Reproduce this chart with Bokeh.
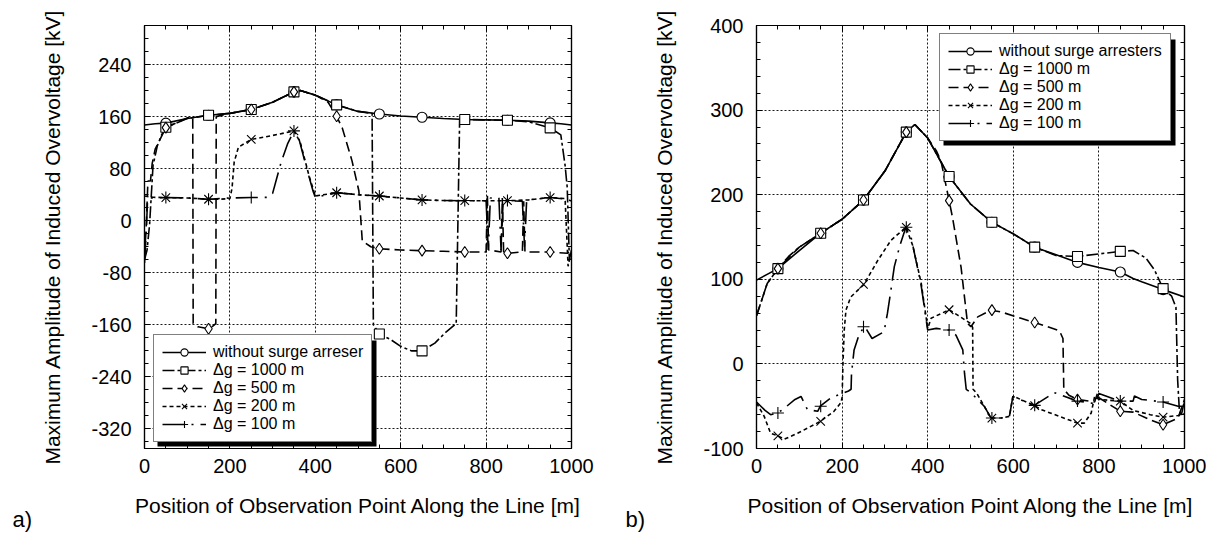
from bokeh.plotting import figure
from bokeh.models import (Range1d, FixedTicker, LinearAxis, Legend, LegendItem,
                          BoxAnnotation, Title, CustomJSTickFormatter)
from bokeh.layouts import row
from bokeh.embed import file_html
from bokeh.resources import INLINE

FONT = "Liberation Sans"

# ---------------- data: chart a) ----------------
a_none_x = [0, 25, 50, 100, 150, 200, 250, 300, 350, 365, 400, 450, 500, 550, 600, 650, 700, 750, 800, 850, 900, 950, 975, 1000]
a_none_y = [147, 149, 150, 157, 162, 165, 171, 182, 198, 200, 193, 178, 168, 164, 161, 159, 157, 155.5, 155, 154.4, 153, 150.3, 149, 147]

a_g1000_x = [0, 6, 12, 16, 20, 30, 40, 50, 100, 150, 200, 250, 300, 350, 365, 400, 450, 500, 533, 536, 550, 575, 600, 625, 650, 680, 706, 730, 738, 750, 800, 850, 900, 950, 975, 985, 990, 995, 1000]
a_g1000_y = [-60, -45, -5, 40, 85, 115, 132, 143.7, 157, 162, 165, 171, 182, 198, 200, 193, 178, 168, 165, -160, -174, -182, -193, -200, -200, -188, -171, -158, 155, 155.5, 155, 154.4, 152, 142.7, 132, 85, 51, -60, -45]

a_g500_x = [0, 4, 8, 14, 18, 25, 50, 100, 113, 114, 125, 150, 160, 167, 168, 200, 250, 300, 350, 365, 400, 430, 450, 463, 486, 502, 510, 530, 550, 600, 650, 700, 750, 800, 803, 806, 835, 838, 841, 850, 885, 888, 891, 950, 990, 1000]
a_g500_y = [-55, -10, 61, 61, 88, 110, 143, 158, 159, -158, -163, -166, -162, -158, 160, 165, 171, 182, 198, 200, 193, 182, 160.5, 143, 92, 46, -31, -40, -43, -45, -46, -47, -48, -48, 40, -45, -48, 35, -48, -50, -48, 30, -48, -48, -50, -45]

a_g200_x = [0, 20, 50, 100, 150, 175, 200, 205, 210, 220, 250, 300, 350, 365, 385, 400, 450, 500, 550, 600, 650, 700, 750, 800, 850, 900, 950, 985, 992, 1000]
a_g200_y = [38, 36, 35.6, 35, 33, 33, 34, 50, 90, 113, 125, 131, 138, 120, 70, 38, 43, 40, 38, 35, 32, 31, 30.6, 30.6, 30.6, 32, 35.6, 34, -70, -45]

a_g100_x = [0, 4, 7, 12, 50, 100, 150, 200, 250, 290, 300, 320, 335, 350, 362, 380, 395, 400, 450, 500, 550, 600, 650, 700, 750, 800, 805, 810, 830, 835, 840, 850, 885, 890, 895, 950, 990, 1000]
a_g100_y = [-65, -20, 30, 35, 35.6, 35, 33, 35, 35.6, 36, 42, 90, 118, 138, 125, 80, 45, 36, 43, 40, 38, 35, 32, 31, 30.6, 30.6, -45, 35, 35, -45, 32, 30.6, 30, -40, 32, 35.6, 33, 30]

mk_x = [50, 150, 250, 350, 450, 550, 650, 750, 850, 950]
a_mk_none = [150, 162, 171, 198, 178, 164, 159, 155.5, 154.4, 150.3]
a_mk_1000 = [143.7, 162, 171, 198, 178, -174, -200, 155.5, 154.4, 142.7]
a_mk_500 = [143, -166, 171, 198, 160.5, -43, -46, -48, -50, -48]
a_mk_200 = [35.6, 33, 125, 138, 43, 38, 32, 31, 31, 35.6]
a_mk_100 = [35.6, 33, 35.6, 138, 43, 38, 32, 31, 31, 35.6]

# ---------------- data: chart b) ----------------
b_none_x = [0, 50, 100, 150, 200, 250, 300, 350, 370, 400, 450, 500, 550, 600, 650, 700, 750, 800, 850, 880, 900, 950, 1000]
b_none_y = [99, 112.6, 134, 154.5, 171, 193.7, 228, 274, 283, 267, 221.5, 189, 167.4, 153.7, 138, 129, 120, 114, 108.6, 101, 97, 87.8, 79]

b_g1000_x = [0, 10, 25, 50, 75, 100, 150, 200, 250, 300, 350, 370, 400, 450, 500, 550, 600, 650, 700, 750, 800, 850, 880, 910, 930, 950, 970, 980, 984, 988, 992, 1000]
b_g1000_y = [57, 72, 95, 112.6, 127, 138, 154.5, 171, 193.7, 228, 274, 283, 267, 221.5, 189, 167.4, 153.7, 138, 128, 127, 130, 133, 134, 125, 111, 89, 80, 67, -19, -55, -62, -43]

b_g500_x = [0, 10, 25, 50, 100, 150, 200, 250, 300, 350, 370, 400, 420, 431, 450, 458, 478, 493, 501, 517, 548, 571, 618, 649, 680, 708, 716, 718, 730, 750, 790, 797, 800, 850, 880, 920, 950, 985, 1000]
b_g500_y = [57, 72, 95, 112.6, 138, 154.5, 171, 193.7, 228, 274, 283, 267, 252, 240, 193, 173, 114, 48, 44, 55.6, 63.5, 61.5, 54, 49, 44, 39, 30, -30, -37, -42, -45, -34, -40, -56, -57, -66, -72, -64, -42]

b_g200_x = [0, 18, 33, 50, 65, 96, 149, 181, 197, 200, 202, 205, 209, 220, 251, 283, 314, 349, 365, 385, 400, 408, 450, 470, 501, 505, 506, 515, 532, 548, 571, 591, 599, 602, 649, 665, 750, 766, 782, 790, 800, 850, 880, 920, 950, 985, 1000]
b_g200_y = [-46, -62, -82, -85, -89, -82, -68, -56, -46, -40, 0, 40, 63.5, 79, 94, 122, 146, 161.5, 140, 95, 42, 54, 64, 57.6, 47.5, 43, -30, -35, -50, -64, -64, -62, -38.5, -38.5, -49.4, -54, -70, -70, -58, -38.5, -42, -44, -55, -60, -63, -61, -59]

b_g100_x = [0, 20, 33, 50, 66, 90, 104, 119, 143, 149, 174, 200, 215, 221, 222, 228, 240, 252, 258, 270, 298, 306, 314, 322, 335, 349, 361, 384, 400, 420, 450, 466, 482, 486, 490, 501, 532, 548, 571, 591, 599, 649, 696, 750, 766, 790, 800, 850, 880, 883, 900, 950, 985, 1000]
b_g100_y = [-45, -55, -60, -58, -52, -42, -38.5, -54, -56, -50, -40, -35, -32, -30, -11, 16.5, 35, 44, 40, 30, 38, 60, 87, 115, 140, 161.5, 150, 95, 40, 42, 40, 34, 16.5, -11, -30, -34, -50, -64, -64, -62, -38.5, -49, -34, -44, -45, -47, -35, -44, -44, -38, -42, -45, -50, -50]

b_mk_none = [112.6, 154.5, 193.7, 274, 221.5, 167.4, 138, 120, 108.6, 87.8]
b_mk_1000 = [112.6, 154.5, 193.7, 274, 221.5, 167.4, 138, 127, 133, 89]
b_mk_500 = [112.6, 154.5, 193.7, 274, 193, 63.5, 49, -42, -56, -72]
b_mk_200 = [-85, -68, 94, 161.5, 64, -64, -49.4, -70, -44, -63]
b_mk_100 = [-58, -50, 44, 161.5, 40, -64, -49, -44, -44, -45]

a_yticks = [-320, -240, -160, -80, 0, 80, 160, 240]
a_yminor = list(range(-340, 300, 20))
b_yticks = [-100, 0, 100, 200, 300, 400]
b_yminor = list(range(-100, 401, 20))
xticks = [0, 200, 400, 600, 800, 1000]
xminor = list(range(0, 1001, 50))

labels_a = ["without surge arreser", "\u0394g = 1000 m", "\u0394g = 500 m", "\u0394g = 200 m", "\u0394g = 100 m"]
labels_b = ["without surge arresters", "\u0394g = 1000 m", "\u0394g = 500 m", "\u0394g = 200 m", "\u0394g = 100 m"]

XTITLE = "Position of Observation Point Along the Line [m]"
YTITLE = "Maximum Amplitude of Induced Overvoltage [kV]"

DASHES = ["solid", "12 3 3 3", "10 5", "4 3", "22 7 2 7"]
MARKERS = ["circle", "square", "diamond", "x", "cross"]
MSIZE = [10, 10, 11, 12, 12]


def style_axis(ax, ticks, minor, labels=True):
    ax.ticker = FixedTicker(ticks=ticks, minor_ticks=minor)
    ax.major_tick_in = 6
    ax.major_tick_out = 0
    ax.minor_tick_in = 4
    ax.minor_tick_out = 0
    ax.axis_line_color = "black"
    ax.axis_line_width = 1.2
    ax.major_tick_line_color = "black"
    ax.minor_tick_line_color = "black"
    ax.major_label_text_font = FONT
    ax.major_label_text_font_size = "20px"
    ax.major_label_text_color = "black"
    ax.axis_label_text_font = FONT
    ax.axis_label_text_font_size = "21px"
    ax.axis_label_text_font_style = "normal"
    ax.axis_label_text_color = "black"
    if labels:
        ax.formatter = CustomJSTickFormatter(code="return String(tick)")
    else:
        ax.formatter = CustomJSTickFormatter(code="return ''")


def make_fig(xs_list, ys_list, mk_list, ylo, yhi, yticks, yminor, labels,
             left_border, right_border, fw, leg_loc, leg_w, tag, tag_off):
    p = figure(output_backend="svg", toolbar_location=None,
               x_range=Range1d(0, 1000), y_range=Range1d(ylo, yhi),
               frame_width=fw, frame_height=423,
               min_border_left=left_border, min_border_right=right_border,
               min_border_top=25, min_border_bottom=85,
               background_fill_color="white", border_fill_color="white")
    p.outline_line_color = "black"
    p.outline_line_width = 1.2
    style_axis(p.xaxis[0], xticks, xminor)
    style_axis(p.yaxis[0], yticks, yminor)
    p.xaxis[0].axis_label = XTITLE
    p.yaxis[0].axis_label = YTITLE
    p.xaxis[0].major_label_standoff = 10
    p.xaxis[0].axis_label_standoff = 18
    p.yaxis[0].major_label_standoff = 13
    p.yaxis[0].axis_label_standoff = 24
    top = LinearAxis()
    style_axis(top, xticks, xminor, labels=False)
    p.add_layout(top, "above")
    right = LinearAxis()
    style_axis(right, yticks, yminor, labels=False)
    p.add_layout(right, "right")

    for g in (p.xgrid[0], p.ygrid[0]):
        g.grid_line_color = "black"
        g.grid_line_dash = "2 2"
        g.grid_line_width = 1
        g.grid_line_alpha = 0.9
    p.xgrid[0].ticker = FixedTicker(ticks=xticks)
    p.ygrid[0].ticker = FixedTicker(ticks=yticks)

    line_rs = []
    for xs, ys, dash in zip(xs_list, ys_list, DASHES):
        line_rs.append(p.line(xs, ys, line_color="black", line_width=1.6, line_dash=dash))
    mk_rs = []
    for vals, mk, sz in zip(mk_list, MARKERS, MSIZE):
        mk_rs.append(p.scatter(mk_x, vals, marker=mk, size=sz, fill_color="white",
                               line_color="black", line_width=1.1))

    # legend drop shadow
    lx, ly = leg_loc
    leg_h = 106
    shadow = BoxAnnotation(left=lx + 4, right=lx + 4 + leg_w, bottom=ly - 4, top=ly - 4 + leg_h,
                           left_units="screen", right_units="screen",
                           top_units="screen", bottom_units="screen",
                           fill_color="black", fill_alpha=1, line_color=None)
    p.add_layout(shadow)
    items = [LegendItem(label=lab, renderers=[lr, mr]) for lab, lr, mr in zip(labels, line_rs, mk_rs)]
    leg = Legend(items=items, location=leg_loc, margin=0, padding=8, spacing=0,
                 glyph_width=44, glyph_height=18, label_height=18, label_standoff=7,
                 label_text_font=FONT, label_text_font_size="16px", label_text_color="black",
                 border_line_color="black", border_line_width=1.5,
                 background_fill_color="white", background_fill_alpha=1)
    p.add_layout(leg)

    # panel tag "a)" / "b)" in the lower-left corner
    p.add_layout(Title(text=tag, align="left", offset=tag_off, vertical_align="top",
                       standoff=-26, text_font=FONT, text_font_size="22px",
                       text_font_style="normal", text_color="black"), "below")
    return p


pa = make_fig([a_none_x, a_g1000_x, a_g500_x, a_g200_x, a_g100_x],
              [a_none_y, a_g1000_y, a_g500_y, a_g200_y, a_g100_y],
              [a_mk_none, a_mk_1000, a_mk_500, a_mk_200, a_mk_100],
              -350, 300, a_yticks, a_yminor, labels_a,
              144, 29, 427, (9, 6), 219, "a)", -132)
pb = make_fig([b_none_x, b_g1000_x, b_g500_x, b_g200_x, b_g100_x],
              [b_none_y, b_g1000_y, b_g500_y, b_g200_y, b_g100_y],
              [b_mk_none, b_mk_1000, b_mk_500, b_mk_200, b_mk_100],
              -100, 400, b_yticks, b_yminor, labels_b,
              156, 22, 428, (183, 307), 232, "b)", -131)

layout = row(pa, pb, spacing=0)
open("out.html", "w").write(file_html(layout, INLINE))
